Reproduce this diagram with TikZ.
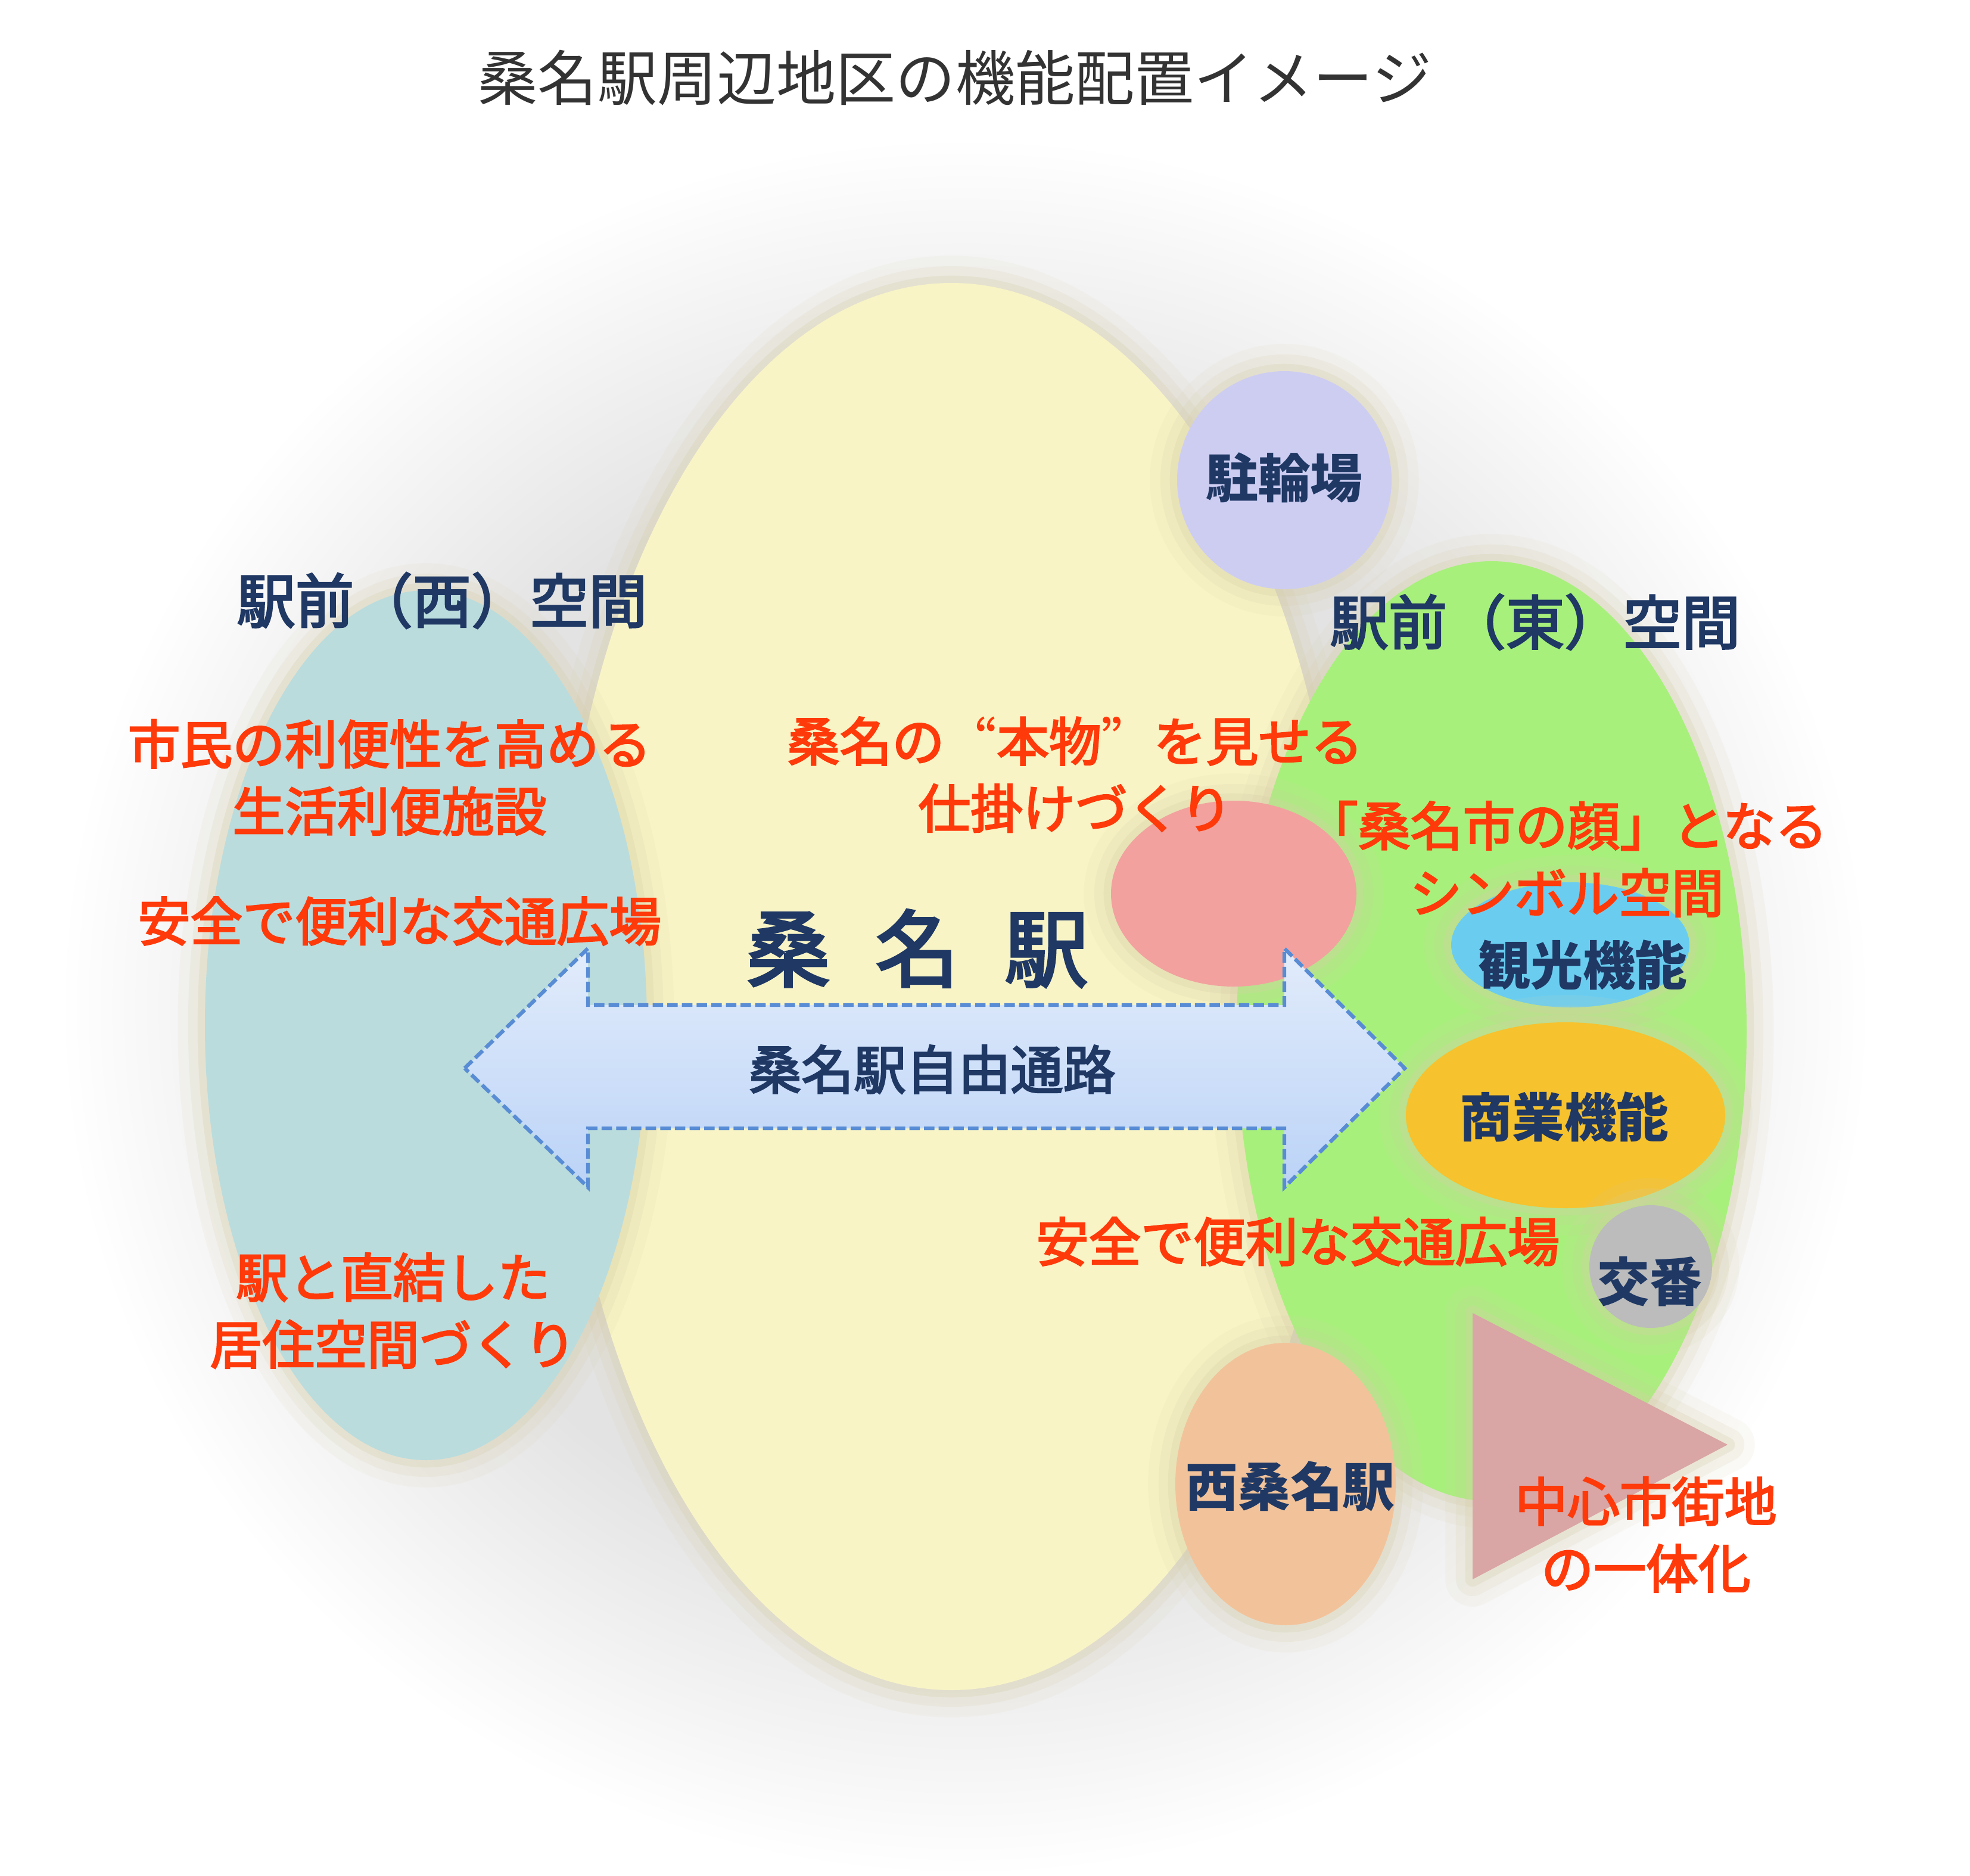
\documentclass[tikz,border=0pt]{standalone}
\usepackage{fontspec}
\setmainfont{Noto Sans CJK JP}
\newfontfamily\medfont[FakeBold=3]{Noto Sans CJK JP}
\newfontfamily\widefont[CharacterWidth=Full]{Noto Sans CJK JP}
\usetikzlibrary{shapes.geometric}

\definecolor{haloc}{RGB}{214,205,168}
\definecolor{hubc}{RGB}{248,244,198}
\definecolor{westc}{RGB}{186,220,221}
\definecolor{eastc}{RGB}{168,240,124}
\definecolor{bikec}{RGB}{205,205,242}
\definecolor{facec}{RGB}{242,161,158}
\definecolor{tourc}{RGB}{106,205,240}
\definecolor{shopc}{RGB}{246,194,46}
\definecolor{kobanc}{RGB}{188,188,188}
\definecolor{nishic}{RGB}{242,195,154}
\definecolor{cityc}{RGB}{217,165,165}
\definecolor{passtop}{RGB}{226,236,251}
\definecolor{passbot}{RGB}{187,211,247}
\definecolor{passline}{RGB}{88,140,212}
\definecolor{navyc}{RGB}{31,56,100}
\definecolor{redc}{RGB}{255,58,10}
\definecolor{titlec}{RGB}{51,51,51}

\pgfdeclareradialshading{haze}{\pgfpoint{0bp}{0bp}}{color(0bp)=(gray!22); color(16bp)=(gray!22); color(25bp)=(white); color(50bp)=(white)}

\begin{document}
\begin{tikzpicture}[
  halo/.style={preaction={draw=haloc, line width=26pt, draw opacity=0.10, line join=round},
               preaction={draw=haloc, line width=16pt, draw opacity=0.16, line join=round},
               preaction={draw=haloc, line width=7pt, draw opacity=0.26, line join=round}},
  zone/.style={ellipse, inner sep=0pt, halo},
  tag/.style={text=navyc, font=\bfseries\fontsize{25}{30}\selectfont},
  head/.style={text=navyc, font=\medfont\fontsize{28}{34}\selectfont},
  note/.style={text=redc, align=center, font=\medfont\fontsize{25}{32}\selectfont}
]
\useasboundingbox (0,0) rectangle (33.07,-31.49);
\fill[white] (0,0) rectangle (33.07,-31.49);

% soft grey haze behind the whole plan
\shade[shading=haze] (16.2,-16.9) ellipse [x radius=15.2cm, y radius=14.6cm];

% areas
\node[zone, fill=hubc, minimum width=13.16cm, minimum height=23.62cm] (hub) at (15.97,-16.56) {};
\node[zone, fill=westc, minimum width=7.42cm, minimum height=14.60cm] (west) at (7.15,-17.21) {};
\node[zone, fill=eastc, minimum width=8.56cm, minimum height=15.78cm] (east) at (25.04,-17.31) {};

% facilities
\node[zone, fill=bikec, minimum width=3.60cm, minimum height=3.66cm] (bike) at (21.56,-8.06) {};
\node[zone, fill=facec, minimum width=4.12cm, minimum height=3.12cm] (face) at (20.71,-15.00) {};
\node[zone, fill=tourc, minimum width=4.00cm, minimum height=2.10cm] (tour) at (26.36,-15.86) {};
\node[zone, fill=shopc, minimum width=5.36cm, minimum height=3.12cm] (shop) at (26.28,-18.72) {};
\node[zone, fill=kobanc, minimum width=2.06cm, minimum height=2.06cm] (koban) at (27.71,-21.26) {};
\node[zone, fill=nishic, minimum width=3.70cm, minimum height=4.74cm] (nishi) at (21.58,-24.91) {};
\fill[cityc, halo] (24.72,-22.04) -- (29.00,-24.25) -- (24.72,-26.51) -- cycle;

% free passage
\shadedraw[top color=passtop, bottom color=passbot, draw=passline, line width=1.8pt, dash pattern=on 5pt off 2pt]
  (7.80,-17.93) -- (9.87,-15.92) -- (9.87,-16.87) -- (21.56,-16.87) -- (21.56,-15.92)
  -- (23.58,-17.93) -- (21.56,-19.93) -- (21.56,-18.94) -- (9.87,-18.94) -- (9.87,-19.93) -- cycle;

% texts
\node[text=titlec, font=\fontsize{28.5}{34}\selectfont] (title) at (16.03,-1.31) {桑名駅周辺地区の機能配置イメージ};
\node[head] (westhead) at (7.42,-10.08) {駅前（西）空間};
\node[head] (easthead) at (25.77,-10.44) {駅前（東）空間};
\node[text=navyc, font=\medfont\fontsize{40}{46}\selectfont] (station) at (15.40,-15.92) {桑\hspace{0.76cm}名\hspace{0.76cm}駅};
\node[tag, font=\medfont\fontsize{25}{30}\selectfont] (pass) at (15.65,-17.95) {桑名駅自由通路};
\node[tag] (biketext) at (21.56,-8.02) {駐輪場};
\node[tag] (tourtext) at (26.57,-16.20) {観光機能};
\node[tag] (shoptext) at (26.26,-18.75) {商業機能};
\node[tag] (kobantext) at (27.69,-21.51) {交番};
\node[tag] (nishitext) at (21.66,-24.95) {西桑名駅};

\node[note] (convenience) at (6.54,-13.05) {市民の利便性を高める\\生活利便施設};
\node[note] (westplaza) at (6.71,-15.46) {安全で便利な交通広場};
\node[note] (living) at (6.60,-22.00) {駅と直結した\\居住空間づくり};
\node[note] (genuine) at (18.05,-13.00) {桑名の{\widefont “}本物{\widefont ”}を見せる\\仕掛けづくり};
\node[note] (symbol) at (26.30,-14.42) {「桑名市の顔」となる\\シンボル空間};
\node[note] (eastplaza) at (21.79,-20.84) {安全で便利な交通広場};
\node[note] (centre) at (27.63,-25.76) {中心市街地\\の一体化};
\end{tikzpicture}
\end{document}
